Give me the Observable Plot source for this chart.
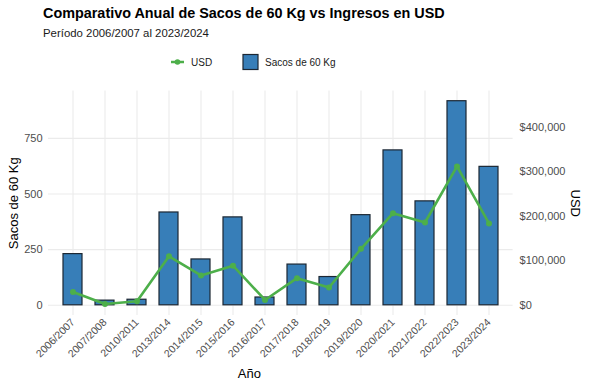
<!DOCTYPE html>
<html>
<head>
<meta charset="utf-8">
<script src="https://cdn.jsdelivr.net/npm/d3@7"></script>
<script src="https://cdn.jsdelivr.net/npm/@observablehq/plot@0.6"></script>
<style>
  html, body { margin: 0; padding: 0; background: #fff; }
  body { font-family: "Liberation Sans", Arial, sans-serif; }
  #wrap { position: relative; width: 589px; height: 387px; overflow: hidden; }
  .title { position: absolute; left: 43px; top: 5px; font-size: 14.4px; font-weight: bold; color: #000; white-space: nowrap; line-height: normal; }
  .subtitle { position: absolute; left: 43px; top: 26.5px; font-size: 11.4px; color: #1a1a1a; white-space: nowrap; line-height: normal; }
  .legend { position: absolute; left: 0; top: 52px; width: 589px; height: 20px; font-size: 10px; color: #1a1a1a; }
  .legend .item { position: absolute; top: 0; display: flex; align-items: center; height: 20px; }
  #chart { position: absolute; left: 0; top: 75px; }
</style>
</head>
<body>
<div id="wrap">
  <div class="title">Comparativo Anual de Sacos de 60 Kg vs Ingresos en USD</div>
  <div class="subtitle">Período 2006/2007 al 2023/2024</div>
  <div class="legend">
    <div class="item" style="left:170px">
      <svg width="15" height="20"><line x1="1" y1="10" x2="14" y2="10" stroke="#4DAF4A" stroke-width="2.5"/><circle cx="7.5" cy="10" r="2.8" fill="#4DAF4A"/></svg>
      <span style="margin-left:6px">USD</span>
    </div>
    <div class="item" style="left:242px">
      <svg width="17" height="20"><rect x="1" y="2.5" width="15" height="15" fill="#377EB8" stroke="#1c2733" stroke-width="1.2"/></svg>
      <span style="margin-left:6px">Sacos de 60 Kg</span>
    </div>
  </div>
  <div id="chart"></div>
</div>
<script>
const years = ["2006/2007","2007/2008","2010/2011","2013/2014","2014/2015","2015/2016","2016/2017","2017/2018","2018/2019","2019/2020","2020/2021","2021/2022","2022/2023","2023/2024"];
const sacos = [230, 21, 25, 417, 206, 395, 35, 183, 127, 405, 696, 467, 917, 622];
const usd = [30000, 3000, 9000, 110000, 67000, 89000, 12000, 61000, 40000, 127000, 207000, 186000, 312000, 184000];
const sacosTicks = [0, 250, 500, 750];
const usdTicks = [0, 100000, 200000, 300000, 400000];
const usdFactor = 500; // secondary axis: USD = sacos-scale value * 500

const data = years.map((y, i) => ({year: y, sacos: sacos[i], usd: usd[i], usdScaled: usd[i] / usdFactor}));
const maxV = d3.max(sacos);
const fmtUSD = d => "$" + d3.format(",")(Math.round(d * usdFactor));

const chart = Plot.plot({
  width: 589,
  height: 312,
  marginLeft: 48,
  marginRight: 76.4,
  marginTop: 15.5,
  marginBottom: 72,
  style: {fontFamily: "Liberation Sans, Arial, sans-serif", fontSize: "11px", background: "white"},
  x: {type: "band", domain: years, paddingInner: 0.4, paddingOuter: 0.3, label: null},
  y: {domain: [-0.05 * maxV, 1.05 * maxV], label: null},
  marks: [
    Plot.gridY(sacosTicks, {stroke: "#ebebeb", strokeOpacity: 1, strokeWidth: 1.1}),
    Plot.gridX(years, {stroke: "#ebebeb", strokeOpacity: 1, strokeWidth: 1.1}),
    Plot.axisY(sacosTicks, {anchor: "left", tickSize: 0, tickPadding: 6, fill: "#4d4d4d", fontSize: 11, label: null}),
    Plot.axisY(usdTicks.map(v => v / usdFactor), {anchor: "right", tickSize: 0, tickPadding: 6.5, tickFormat: fmtUSD, fill: "#4d4d4d", fontSize: 11, label: null}),
    Plot.axisX(years, {anchor: "bottom", tickSize: 0, tickPadding: 5, tickRotate: -45, fill: "#4d4d4d", fontSize: 10.5, label: null}),
    Plot.barY(data, {x: "year", y: "sacos", fill: "#377EB8", stroke: "#1c2733", strokeWidth: 1.2}),
    Plot.line(data, {x: "year", y: "usdScaled", stroke: "#4DAF4A", strokeWidth: 2.6}),
    Plot.dot(data, {x: "year", y: "usdScaled", fill: "#4DAF4A", r: 3}),
    Plot.text(["Sacos de 60 Kg"], {frameAnchor: "left", textAnchor: "middle", lineAnchor: "middle", dx: -35, rotate: -90, fontSize: 13, fill: "#000"}),
    Plot.text(["USD"], {frameAnchor: "right", textAnchor: "middle", lineAnchor: "middle", dx: 62, rotate: 90, fontSize: 13, fill: "#000"}),
    Plot.text(["Año"], {frameAnchor: "bottom", textAnchor: "middle", lineAnchor: "middle", dx: -31.5, dy: 58, fontSize: 13, fill: "#000"})
  ]
});
document.getElementById("chart").appendChild(chart);
</script>
</body>
</html>
